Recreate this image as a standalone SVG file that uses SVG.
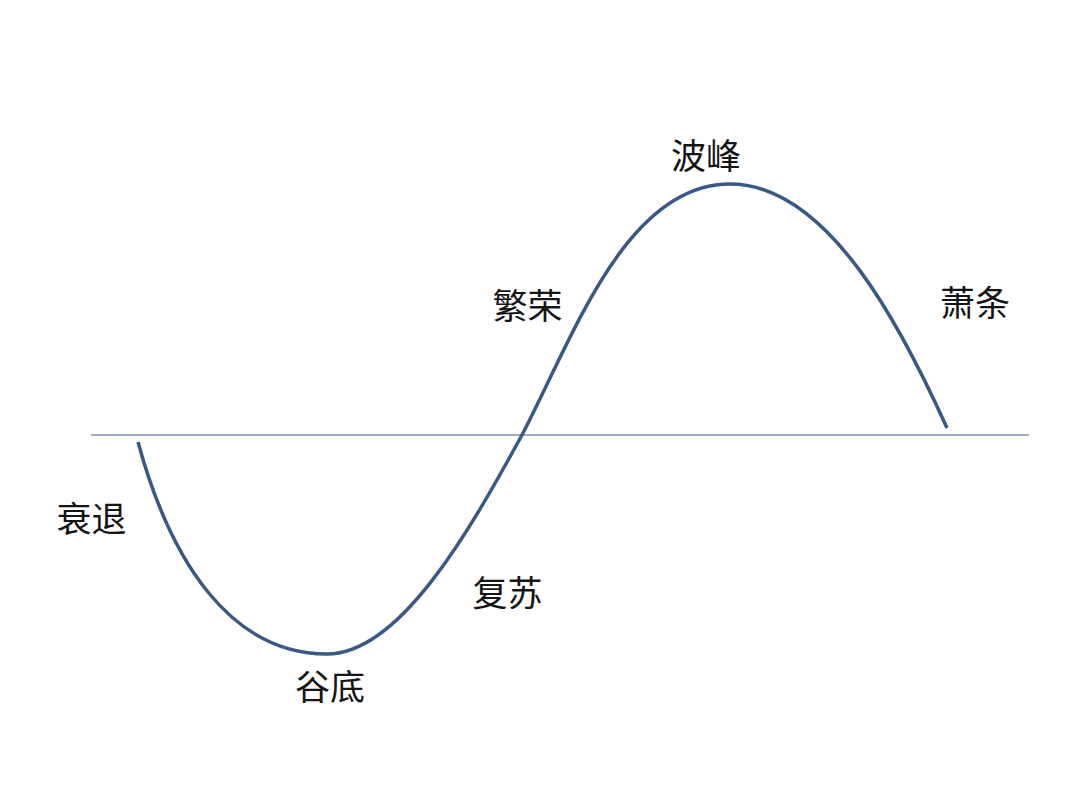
<svg xmlns="http://www.w3.org/2000/svg" width="1085" height="799" viewBox="0 0 1085 799">
<style>
.lbl{font-family:"Noto Sans CJK SC","Noto Sans",sans-serif;font-size:35px;fill:#151515;text-anchor:middle}
.axis{stroke:#7d92ad;stroke-width:1.5;fill:none}
.wave{stroke:#3a5886;stroke-width:3.5;fill:none;stroke-linecap:butt}
</style>
<rect width="1085" height="799" fill="#ffffff"/>
<g id="connectors">
<line class="axis" x1="91" y1="435" x2="1029" y2="435"/>
<path class="wave" d="M138,442 C170,560 230,654 327,654 C400,654 470,530 522,435 C572,340 625,184 730,184 C830,184 905,335 947,428"/>
</g>
<g id="n-shuaitui"><text class="lbl" x="91.5" y="532">衰退</text></g>
<g id="n-gudi"><text class="lbl" x="330" y="700">谷底</text></g>
<g id="n-fusu"><text class="lbl" x="507.5" y="606">复苏</text></g>
<g id="n-fanrong"><text class="lbl" x="527.5" y="319">繁荣</text></g>
<g id="n-bofeng"><text class="lbl" x="706" y="169">波峰</text></g>
<g id="n-xiaotiao"><text class="lbl" x="975" y="316">萧条</text></g>
</svg>
